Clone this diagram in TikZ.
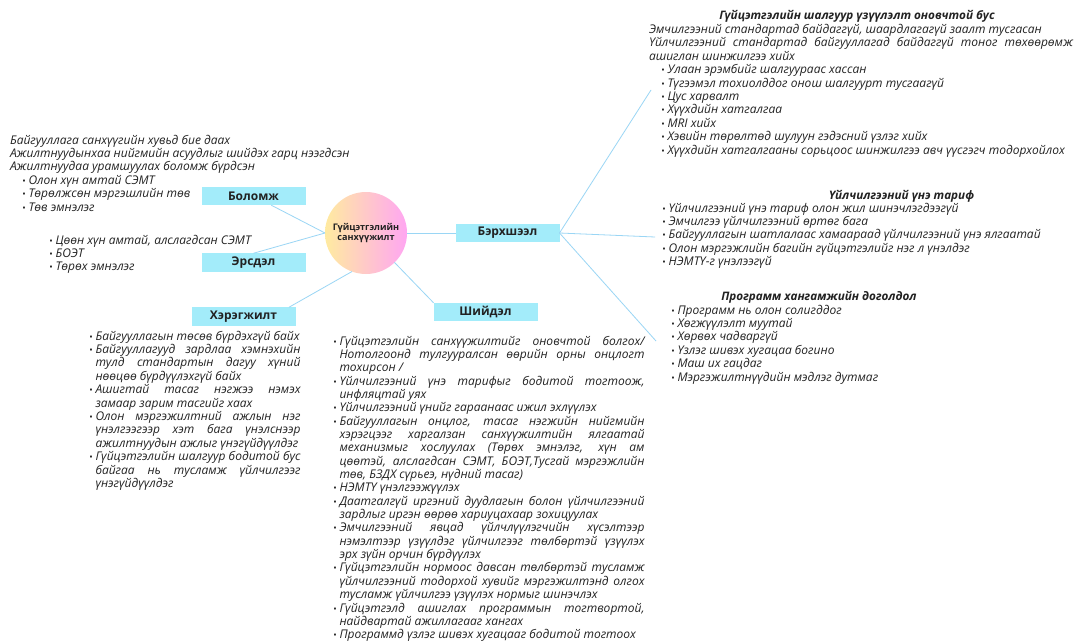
\documentclass[tikz,border=0pt]{standalone}
\usepackage{fontspec}
\setmainfont{Open Sans}
\definecolor{txt}{HTML}{222222}
\definecolor{boxc}{HTML}{A3ECFA}
\definecolor{linec}{HTML}{9AD6F5}
\definecolor{cyel}{HTML}{FFEBA0}
\definecolor{cpink}{HTML}{FFA6F2}
\newcommand\bl{\makebox[6.5pt][l]{\fontsize{9.5}{8}\selectfont\textbullet}}
\newcommand\ind{\hspace*{6.5pt}}
\newcommand\jl[2]{\makebox[#1][s]{#2}}
\newcommand\fst{\rule{0pt}{11.5pt}}
\begin{document}
\begin{tikzpicture}[x=1pt,y=-1pt,
  every node/.style={inner sep=0pt,outer sep=0pt,text=txt},
  txtblock/.style={anchor=north west,align=left,font=\fontsize{12}{13.4}\selectfont\itshape},
  titletext/.style={anchor=base,font=\fontsize{11.7}{13.4}\selectfont\bfseries\itshape},
  branch/.style={fill=boxc,minimum width=104pt,minimum height=18.5pt,font=\fontsize{12}{13}\selectfont\bfseries},
  conn/.style={draw=linec,line width=0.8pt}]
\useasboundingbox[fill=white] (0,0) rectangle (1083,642);

% centre
\node[circle,minimum size=82pt,left color=cyel,right color=cpink,align=center,
      font=\fontsize{9.1}{10.5}\selectfont\bfseries] (c) at (366,233) {Гүйцэтгэлийн\\санхүүжилт};

% branches
\node[branch] (bolomzh) at (253.5,196) {Боломж};
\node[branch] (ersdel) at (253.5,262.5) {Эрсдэл};
\node[branch] (berh) at (507.5,233) {Бэрхшээл};
\node[branch] (kher) at (243.5,316.5) {Хэрэгжилт};
\node[branch] (shiid) at (485.5,312) {Шийдэл};

\coordinate (t1) at (651,90);
\coordinate (t2) at (655,237);
\coordinate (t3) at (656,341);
\coordinate (k1) at (289,307.25);

\draw[conn] (c.east) -- (berh.west);
\draw[conn] (c.west) -- (bolomzh);
\draw[conn] (c.west) -- (ersdel.north);
\draw[conn] (k1) -- (c.250);
\draw[conn] (shiid.north west) -- (c);
\draw[conn] (berh.east) -- (t1);
\draw[conn] (berh.east) -- (t2);
\draw[conn] (berh.east) -- (t3);

% top right group
\node[titletext] (g1t) at (857,20) {Гүйцэтгэлийн шалгуур үзүүлэлт оновчтой бус};
\node[txtblock] (g1) at (649,22) {\fst Эмчилгээний стандартад байдаггүй, шаардлагагүй заалт тусгасан\\
\jl{424pt}{Үйлчилгээний стандартад байгууллагад байдаггүй тоног төхөөрөмж}\\
ашиглан шинжилгээ хийх\\
\hspace*{12pt}\bl Улаан эрэмбийг шалгуураас хассан\\
\hspace*{12pt}\bl Түгээмэл тохиолддог онош шалгуурт тусгаагүй\\
\hspace*{12pt}\bl Цус харвалт\\
\hspace*{12pt}\bl Хүүхдийн хатгалгаа\\
\hspace*{12pt}\bl MRI хийх\\
\hspace*{12pt}\bl Хэвийн төрөлтөд шулуун гэдэсний үзлэг хийх\\
\hspace*{12pt}\bl Хүүхдийн хатгалгааны сорьцоос шинжилгээ авч үүсгэгч тодорхойлох};

% middle right group
\node[titletext] (g2t) at (901.5,199) {Үйлчилгээний үнэ тариф};
\node[txtblock] (g2) at (662,200.5) {\fst\bl Үйлчилгээний үнэ тариф олон жил шинэчлэгдээгүй\\
\bl Эмчилгээ үйлчилгээний өртөг бага\\
\bl Байгууллагын шатлалаас хамаараад үйлчилгээний үнэ ялгаатай\\
\bl Олон мэргэжлийн багийн гүйцэтгэлийг нэг л үнэлдэг\\
\bl НЭМТҮ-г үнэлээгүй};

% lower right group
\node[titletext] (g3t) at (819,300.5) {Программ хангамжийн доголдол};
\node[txtblock] (g3) at (671,302.5) {\fst\bl Программ нь олон солигддог\\
\bl Хөгжүүлэлт муутай\\
\bl Хөрвөх чадваргүй\\
\bl Үзлэг шивэх хугацаа богино\\
\bl Маш их гацдаг\\
\bl Мэргэжилтнүүдийн мэдлэг дутмаг};

% left top group (Боломж)
\node[txtblock] (g4) at (10,132.5) {\fst Байгууллага санхүүгийн хувьд бие даах\\
Ажилтнуудынхаа нийгмийн асуудлыг шийдэх гарц нээгдсэн\\
Ажилтнуудаа урамшуулах боломж бүрдсэн\\
\hspace*{12pt}\bl Олон хүн амтай СЭМТ\\
\hspace*{12pt}\bl Төрөлжсөн мэргэшлийн төв\\
\hspace*{12pt}\bl Төв эмнэлэг};

% Эрсдэл group
\node[txtblock] (g5) at (49,232.5) {\fst\bl Цөөн хүн амтай, алслагдсан СЭМТ\\
\bl БОЭТ\\
\bl Төрөх эмнэлэг};

% Хэрэгжилт group
\node[txtblock] (g6) at (89,328.5) {\fst\bl Байгууллагын төсөв бүрдэхгүй байх\\
\bl\jl{205pt}{Байгууллагууд зардлаа хэмнэхийн}\\
\ind\jl{205pt}{тулд стандартын дагуу хүний}\\
\ind нөөцөө бүрдүүлэхгүй байх\\
\bl\jl{205pt}{Ашигтай тасаг нэгжээ нэмэх}\\
\ind замаар зарим тасгийг хаах\\
\bl\jl{205pt}{Олон мэргэжилтний ажлын нэг}\\
\ind\jl{205pt}{үнэлгээгээр хэт бага үнэлснээр}\\
\ind ажилтнуудын ажлыг үнэгүйдүүлдэг\\
\bl\jl{205pt}{Гүйцэтгэлийн шалгуур бодитой бус}\\
\ind\jl{205pt}{байгаа нь тусламж үйлчилгээг}\\
\ind үнэгүйдүүлдэг};

% Шийдэл group
\node[txtblock,font=\fontsize{12}{13.35}\selectfont\itshape] (g7) at (333,333.5) {\fst\bl\jl{305pt}{Гүйцэтгэлийн санхүүжилтийг оновчтой болгох/}\\
\ind\jl{305pt}{Нотолгоонд тулгууралсан өөрийн орны онцлогт}\\
\ind тохирсон /\\
\bl\jl{305pt}{Үйлчилгээний үнэ тарифыг бодитой тогтоож,}\\
\ind инфляцтай уях\\
\bl Үйлчилгээний үнийг гараанаас ижил эхлүүлэх\\
\bl\jl{305pt}{Байгууллагын онцлог, тасаг нэгжийн нийгмийн}\\
\ind\jl{305pt}{хэрэгцээг харгалзан санхүүжилтийн ялгаатай}\\
\ind\jl{305pt}{механизмыг хослуулах (Төрөх эмнэлэг, хүн ам}\\
\ind\jl{305pt}{цөөтэй, алслагдсан СЭМТ, БОЭТ,Тусгай мэргэжлийн}\\
\ind төв, БЗДХ сүрьеэ, нүдний тасаг)\\
\bl НЭМТҮ үнэлгээжүүлэх\\
\bl\jl{305pt}{Даатгалгүй иргэний дуудлагын болон үйлчилгээний}\\
\ind зардлыг иргэн өөрөө хариуцахаар зохицуулах\\
\bl\jl{305pt}{Эмчилгээний явцад үйлчлүүлэгчийн хүсэлтээр}\\
\ind\jl{305pt}{нэмэлтээр үзүүлдэг үйлчилгээг төлбөртэй үзүүлэх}\\
\ind эрх зүйн орчин бүрдүүлэх\\
\bl\jl{305pt}{Гүйцэтгэлийн нормоос давсан төлбөртэй тусламж}\\
\ind\jl{305pt}{үйлчилгээний тодорхой хувийг мэргэжилтэнд олгох}\\
\ind тусламж үйлчилгээ үзүүлэх нормыг шинэчлэх\\
\bl\jl{305pt}{Гүйцэтгэлд ашиглах программын тогтвортой,}\\
\ind найдвартай ажиллагааг хангах\\
\bl Программд үзлэг шивэх хугацааг бодитой тогтоох};
\end{tikzpicture}
\end{document}
